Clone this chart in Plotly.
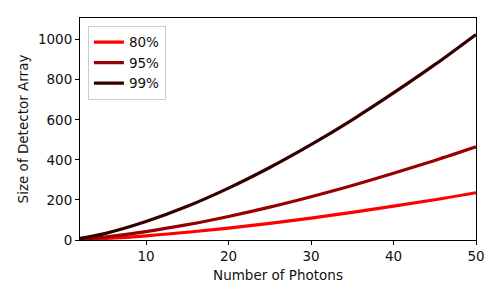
import plotly.graph_objects as go

photons = [2, 5, 10, 15, 20, 25, 30, 35, 40, 45, 50]
size_80 = [1.9, 7.5, 21, 38.8, 59.7, 83.4, 109.6, 138, 169, 201, 236]
size_95 = [3.7, 14.7, 41.6, 76.4, 117.6, 164, 216, 272, 333, 397, 465]
size_99 = [8.2, 32, 92, 168, 259, 362, 476, 600, 734, 875, 1026]

series = [("80%", size_80, "#ff0000"), ("95%", size_95, "#990000"), ("99%", size_99, "#330000")]

fig = go.Figure()
for name, ys, color in series:
    fig.add_trace(go.Scatter(x=photons, y=ys, mode="lines", name=name,
                             line=dict(color=color, width=3.2, shape="spline")))

font = dict(family="DejaVu Sans", size=13.5, color="#111")
axis_common = dict(showline=True, linecolor="black", linewidth=1, mirror=True,
                   ticks="outside", ticklen=4, tickcolor="black", showgrid=False,
                   zeroline=False, tickfont=font)
fig.update_layout(
    width=500, height=298,
    margin=dict(l=80, r=24, t=18, b=58),
    plot_bgcolor="white", paper_bgcolor="white",
    font=font,
    xaxis=dict(range=[2, 50], tickvals=[10, 20, 30, 40, 50],
               title=dict(text="Number of Photons", font=font, standoff=7), **axis_common),
    yaxis=dict(range=[0, 1108], tickvals=[0, 200, 400, 600, 800, 1000],
               title=dict(text="Size of Detector Array", font=font, standoff=6), **axis_common),
    legend=dict(x=0.02, y=0.965, xanchor="left", yanchor="top",
                bordercolor="#cccccc", borderwidth=1, bgcolor="white",
                font=font, tracegroupgap=0, itemwidth=30),
    showlegend=True,
)
fig.write_html("out.html", config={"displayModeBar": False},
               post_script="document.body.style.margin='0';")
